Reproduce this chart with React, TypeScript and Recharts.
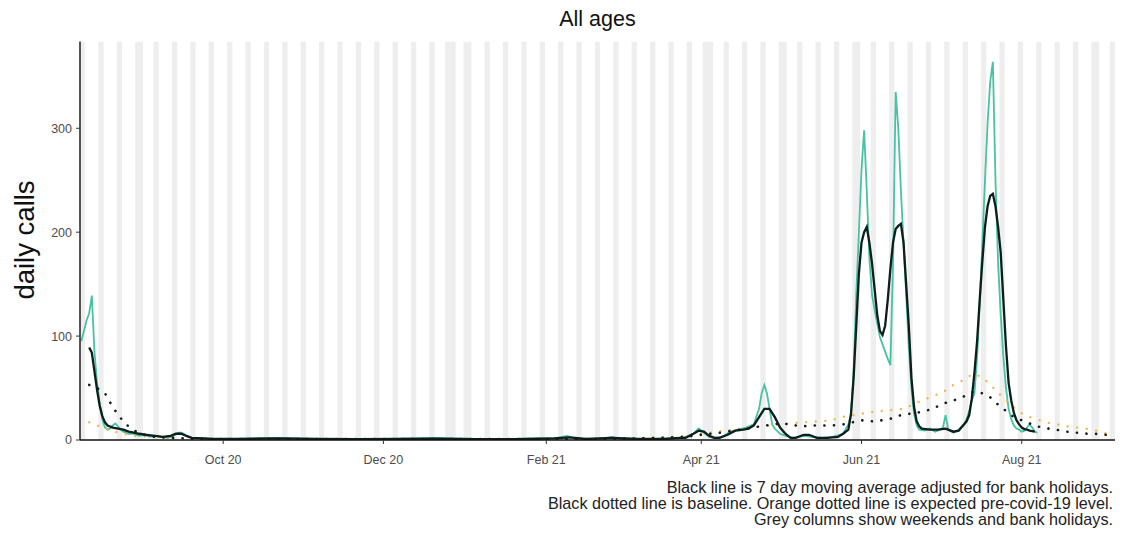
import React from 'react';
import { ComposedChart, Line, XAxis, YAxis, ReferenceArea } from 'recharts';

const START = '2020-08-08';
const END = '2021-09-05';

const tickDates = ['2020-10-01', '2020-12-01', '2021-02-01', '2021-04-01', '2021-06-01', '2021-08-01'];
const tickLabels = ['Oct 20', 'Dec 20', 'Feb 21', 'Apr 21', 'Jun 21', 'Aug 21'];
const yTicks = [0, 100, 200, 300];
const yMax = 383.5;

const bankHolidays = [
  '2020-08-31', '2020-12-25', '2020-12-28', '2021-01-01',
  '2021-04-02', '2021-04-05', '2021-05-03', '2021-05-31', '2021-08-30',
];

// daily calls (teal)
const dailyCalls: [string, number][] = [
  ['2020-08-08', 95], ['2020-08-09', 105], ['2020-08-10', 115], ['2020-08-11', 122], ['2020-08-12', 139],
  ['2020-08-13', 85], ['2020-08-14', 55], ['2020-08-15', 35], ['2020-08-16', 20], ['2020-08-17', 12],
  ['2020-08-18', 10], ['2020-08-19', 11], ['2020-08-20', 14], ['2020-08-21', 16], ['2020-08-22', 13],
  ['2020-08-23', 10], ['2020-08-24', 8], ['2020-08-26', 6], ['2020-08-28', 6], ['2020-08-30', 4],
  ['2020-09-01', 5], ['2020-09-03', 3], ['2020-09-05', 4], ['2020-09-07', 3], ['2020-09-10', 2],
  ['2020-09-12', 4], ['2020-09-14', 7], ['2020-09-15', 7], ['2020-09-16', 6], ['2020-09-17', 4],
  ['2020-09-19', 2], ['2020-09-23', 2], ['2020-09-27', 1], ['2020-10-05', 1], ['2020-10-20', 2],
  ['2020-11-05', 1], ['2020-11-20', 1], ['2020-12-05', 1], ['2020-12-20', 2], ['2021-01-05', 1],
  ['2021-01-20', 1], ['2021-02-05', 2], ['2021-02-09', 4], ['2021-02-12', 1], ['2021-02-22', 1],
  ['2021-02-26', 3], ['2021-03-01', 1], ['2021-03-15', 1], ['2021-03-25', 2], ['2021-03-29', 6],
  ['2021-03-31', 11], ['2021-04-02', 7], ['2021-04-04', 3], ['2021-04-06', 2], ['2021-04-09', 3],
  ['2021-04-12', 8], ['2021-04-15', 10], ['2021-04-18', 12], ['2021-04-21', 15], ['2021-04-23', 30],
  ['2021-04-24', 45], ['2021-04-25', 53], ['2021-04-26', 45], ['2021-04-27', 30], ['2021-04-28', 15],
  ['2021-04-29', 11], ['2021-05-01', 6], ['2021-05-03', 4], ['2021-05-06', 2], ['2021-05-10', 4],
  ['2021-05-13', 3], ['2021-05-17', 2], ['2021-05-21', 3], ['2021-05-25', 6], ['2021-05-27', 15],
  ['2021-05-28', 25], ['2021-05-29', 65], ['2021-05-30', 140], ['2021-05-31', 200], ['2021-06-01', 260],
  ['2021-06-02', 298], ['2021-06-03', 240], ['2021-06-04', 175], ['2021-06-05', 140], ['2021-06-06', 125],
  ['2021-06-07', 112], ['2021-06-08', 99], ['2021-06-09', 92], ['2021-06-10', 85], ['2021-06-11', 78],
  ['2021-06-12', 72], ['2021-06-13', 170], ['2021-06-14', 335], ['2021-06-15', 300], ['2021-06-16', 240],
  ['2021-06-17', 190], ['2021-06-18', 140], ['2021-06-19', 90], ['2021-06-20', 50], ['2021-06-21', 25],
  ['2021-06-22', 14], ['2021-06-23', 10], ['2021-06-25', 9], ['2021-06-27', 11], ['2021-06-29', 8],
  ['2021-07-01', 10], ['2021-07-02', 12], ['2021-07-03', 24], ['2021-07-04', 10], ['2021-07-06', 7],
  ['2021-07-08', 10], ['2021-07-10', 15], ['2021-07-11', 20], ['2021-07-12', 28], ['2021-07-13', 38],
  ['2021-07-14', 45], ['2021-07-15', 80], ['2021-07-16', 130], ['2021-07-17', 190], ['2021-07-18', 250],
  ['2021-07-19', 305], ['2021-07-20', 345], ['2021-07-21', 364], ['2021-07-22', 250], ['2021-07-23', 170],
  ['2021-07-24', 120], ['2021-07-25', 80], ['2021-07-26', 50], ['2021-07-27', 30], ['2021-07-28', 20],
  ['2021-07-29', 14], ['2021-07-30', 11], ['2021-07-31', 10], ['2021-08-01', 8], ['2021-08-02', 9],
  ['2021-08-03', 12], ['2021-08-04', 15], ['2021-08-05', 12], ['2021-08-06', 8], ['2021-08-07', 7],
];

// 7 day moving average (black)
const movingAverage: [string, number][] = [
  ['2020-08-11', 89], ['2020-08-12', 84], ['2020-08-13', 66], ['2020-08-14', 48], ['2020-08-15', 33],
  ['2020-08-16', 23], ['2020-08-17', 17], ['2020-08-18', 14], ['2020-08-20', 12], ['2020-08-22', 11],
  ['2020-08-24', 10], ['2020-08-26', 8], ['2020-08-28', 7], ['2020-08-30', 6], ['2020-09-02', 5],
  ['2020-09-05', 4], ['2020-09-08', 3], ['2020-09-11', 4], ['2020-09-13', 6], ['2020-09-15', 6],
  ['2020-09-17', 4], ['2020-09-19', 2], ['2020-09-23', 1.5], ['2020-09-27', 1], ['2020-10-07', 1],
  ['2020-10-22', 1.5], ['2020-11-06', 1], ['2020-11-21', 0.8], ['2020-12-06', 1], ['2020-12-21', 1.2],
  ['2021-01-05', 0.8], ['2021-01-20', 0.8], ['2021-02-04', 1.5], ['2021-02-10', 2.5], ['2021-02-16', 1],
  ['2021-02-26', 2], ['2021-03-08', 1], ['2021-03-18', 1], ['2021-03-24', 2], ['2021-03-26', 2],
  ['2021-03-29', 6], ['2021-03-31', 9], ['2021-04-02', 8], ['2021-04-04', 4], ['2021-04-06', 2],
  ['2021-04-08', 2], ['2021-04-11', 5], ['2021-04-14', 9], ['2021-04-17', 10], ['2021-04-19', 11],
  ['2021-04-21', 14], ['2021-04-23', 22], ['2021-04-25', 30], ['2021-04-27', 30], ['2021-04-29', 22],
  ['2021-05-01', 12], ['2021-05-03', 6], ['2021-05-05', 2], ['2021-05-07', 2], ['2021-05-10', 5],
  ['2021-05-12', 5], ['2021-05-15', 2], ['2021-05-19', 2], ['2021-05-23', 3], ['2021-05-25', 6],
  ['2021-05-27', 10], ['2021-05-28', 25], ['2021-05-29', 60], ['2021-05-30', 110], ['2021-05-31', 160],
  ['2021-06-01', 190], ['2021-06-02', 200], ['2021-06-03', 205], ['2021-06-04', 190], ['2021-06-05', 170],
  ['2021-06-06', 145], ['2021-06-07', 120], ['2021-06-08', 105], ['2021-06-09', 101], ['2021-06-10', 110],
  ['2021-06-11', 135], ['2021-06-12', 165], ['2021-06-13', 190], ['2021-06-14', 203], ['2021-06-15', 206],
  ['2021-06-16', 208], ['2021-06-17', 190], ['2021-06-18', 150], ['2021-06-19', 110], ['2021-06-20', 60],
  ['2021-06-21', 32], ['2021-06-22', 18], ['2021-06-23', 13], ['2021-06-24', 11], ['2021-06-27', 10],
  ['2021-06-30', 10], ['2021-07-03', 11], ['2021-07-06', 8], ['2021-07-08', 9], ['2021-07-09', 12],
  ['2021-07-10', 15], ['2021-07-11', 18], ['2021-07-12', 24], ['2021-07-13', 40], ['2021-07-14', 65],
  ['2021-07-15', 95], ['2021-07-16', 135], ['2021-07-17', 172], ['2021-07-18', 205], ['2021-07-19', 225],
  ['2021-07-20', 235], ['2021-07-21', 237], ['2021-07-22', 225], ['2021-07-23', 205], ['2021-07-24', 180],
  ['2021-07-25', 135], ['2021-07-26', 90], ['2021-07-27', 55], ['2021-07-28', 38], ['2021-07-29', 26],
  ['2021-07-30', 19], ['2021-07-31', 15], ['2021-08-01', 12], ['2021-08-02', 10.5], ['2021-08-03', 10],
  ['2021-08-04', 9], ['2021-08-05', 8.5], ['2021-08-06', 8],
];

// baseline (black dotted)
const baseline: [string, number][] = [
  ['2020-08-11', 53], ['2020-08-14', 50], ['2020-08-17', 45], ['2020-08-19', 36], ['2020-08-21', 28],
  ['2020-08-23', 21], ['2020-08-26', 13], ['2020-08-29', 8], ['2020-09-01', 5], ['2020-09-05', 3],
  ['2020-09-12', 2], ['2020-09-22', 1], ['2020-10-07', 1], ['2020-11-16', 0.8], ['2021-01-05', 0.8],
  ['2021-02-24', 1], ['2021-03-16', 2], ['2021-03-26', 3], ['2021-04-01', 5], ['2021-04-08', 7],
  ['2021-04-16', 10], ['2021-04-23', 13], ['2021-05-01', 16], ['2021-05-05', 15], ['2021-05-09', 13],
  ['2021-05-13', 14], ['2021-05-21', 14], ['2021-05-25', 15], ['2021-06-01', 19], ['2021-06-05', 18],
  ['2021-06-09', 19], ['2021-06-13', 21], ['2021-06-16', 24], ['2021-06-24', 27], ['2021-06-28', 30],
  ['2021-07-02', 35], ['2021-07-06', 38], ['2021-07-10', 42], ['2021-07-13', 46], ['2021-07-16', 46],
  ['2021-07-20', 41], ['2021-07-23', 34], ['2021-07-29', 22], ['2021-08-02', 18], ['2021-08-07', 13],
  ['2021-08-11', 11], ['2021-08-14', 10], ['2021-08-18', 8], ['2021-08-22', 7], ['2021-08-26', 6],
  ['2021-08-29', 6], ['2021-09-02', 5],
];

// expected pre-covid-19 level (orange dotted)
const expected: [string, number][] = [
  ['2020-08-11', 17], ['2020-08-16', 12], ['2020-08-22', 7], ['2020-08-28', 4], ['2020-09-07', 2],
  ['2020-09-22', 1], ['2020-11-16', 0.5], ['2021-01-05', 0.5], ['2021-02-24', 1], ['2021-03-21', 3],
  ['2021-04-01', 6], ['2021-04-10', 9], ['2021-04-20', 12], ['2021-05-05', 16], ['2021-05-21', 19],
  ['2021-05-24', 22], ['2021-06-05', 27], ['2021-06-13', 29], ['2021-06-17', 30], ['2021-06-24', 38],
  ['2021-07-02', 46], ['2021-07-06', 53], ['2021-07-10', 58], ['2021-07-13', 63], ['2021-07-15', 63],
  ['2021-07-17', 59], ['2021-07-19', 56], ['2021-07-22', 48], ['2021-07-26', 38], ['2021-07-31', 27],
  ['2021-08-05', 21], ['2021-08-12', 16], ['2021-08-19', 13], ['2021-08-28', 10], ['2021-09-01', 7],
  ['2021-09-04', 5],
];

const FONT = '"Liberation Sans", Arial, sans-serif';

const parse = (s: string) => {
  const [y, m, d] = s.split('-').map(Number);
  return Date.UTC(y, m - 1, d);
};
const t0 = parse(START);
const dayOf = (s: string) => Math.round((parse(s) - t0) / 86400000);
const nDays = dayOf(END) + 1;

type Row = { day: number; raw: number | null; avg: number | null; base: number | null; exp: number | null };
const rows: Row[] = Array.from({ length: nDays }, (_, i) => ({ day: i, raw: null, avg: null, base: null, exp: null }));
dailyCalls.forEach(([d, v]) => { rows[dayOf(d)].raw = v; });
movingAverage.forEach(([d, v]) => { rows[dayOf(d)].avg = v; });
baseline.forEach(([d, v]) => { rows[dayOf(d)].base = v; });
expected.forEach(([d, v]) => { rows[dayOf(d)].exp = v; });

const holidaySet = new Set(bankHolidays.map(dayOf));
const greyDay = (i: number) => {
  const wd = new Date(t0 + i * 86400000).getUTCDay();
  return wd === 0 || wd === 6 || holidaySet.has(i);
};
const greyRuns: [number, number][] = [];
for (let i = 0; i < nDays; i++) {
  if (!greyDay(i)) continue;
  const last = greyRuns[greyRuns.length - 1];
  if (last && last[1] === i - 1) last[1] = i;
  else greyRuns.push([i, i]);
}

const tickDays = tickDates.map(dayOf);
const tickLabel = (v: number) => {
  const k = tickDays.indexOf(v);
  return k >= 0 ? tickLabels[k] : '';
};

export default function App() {
  return (
    <div style={{ position: 'relative', width: 1120, height: 525, fontFamily: FONT }}>
      <ComposedChart
        width={1120}
        height={525}
        data={rows}
        margin={{ top: 33.5, right: 13, bottom: 53, left: 0 }}
      >
        {greyRuns.map(([a, b]) => (
          <ReferenceArea
            key={a}
            x1={a - 0.5}
            x2={b + 0.5}
            y1={0}
            y2={yMax}
            fill="#eeeeee"
            fillOpacity={1}
            stroke="none"
            ifOverflow="hidden"
            zIndex={-10}
          />
        ))}
        <XAxis
          type="number"
          dataKey="day"
          domain={[-0.5, nDays - 0.5]}
          allowDataOverflow
          ticks={tickDays}
          interval={0}
          tickFormatter={tickLabel}
          height={40}
          tickSize={4}
          tickMargin={11}
          axisLine={{ stroke: '#111', strokeWidth: 1.4 }}
          tickLine={{ stroke: '#333', strokeWidth: 1 }}
          tick={{ fill: '#4d4d4d', fontSize: 12.5, fontFamily: FONT }}
        />
        <YAxis
          type="number"
          domain={[0, yMax]}
          allowDataOverflow
          ticks={yTicks}
          interval={0}
          width={72}
          tickSize={4}
          tickMargin={4}
          axisLine={{ stroke: '#111', strokeWidth: 1.4 }}
          tickLine={{ stroke: '#333', strokeWidth: 1 }}
          tick={{ fill: '#4d4d4d', fontSize: 12.5, fontFamily: FONT }}
        />
        <Line
          dataKey="raw"
          type="linear"
          stroke="#48c2a3"
          strokeWidth={1.8}
          dot={false}
          activeDot={false}
          connectNulls
          isAnimationActive={false}
        />
        <Line
          dataKey="exp"
          type="linear"
          stroke="#f3b548"
          strokeWidth={2.3}
          strokeDasharray="0.1 9.5"
          strokeLinecap="round"
          dot={false}
          activeDot={false}
          connectNulls
          isAnimationActive={false}
        />
        <Line
          dataKey="base"
          type="linear"
          stroke="#1a1a1a"
          strokeWidth={2.6}
          strokeDasharray="0.1 9.5"
          strokeLinecap="round"
          dot={false}
          activeDot={false}
          connectNulls
          isAnimationActive={false}
        />
        <Line
          dataKey="avg"
          type="linear"
          stroke="#0c1f1c"
          strokeWidth={2.3}
          dot={false}
          activeDot={false}
          connectNulls
          isAnimationActive={false}
        />
      </ComposedChart>
      <svg
        width={1120}
        height={525}
        style={{ position: 'absolute', left: 0, top: 0, pointerEvents: 'none' }}
      >
        <text x={589.5} y={18} textAnchor="middle" fontSize={21.5} fontFamily={FONT} fill="#111">
          All ages
        </text>
        <text
          x={26}
          y={232}
          textAnchor="middle"
          fontSize={27.5}
          fontFamily={FONT}
          fill="#111"
          transform="rotate(-90, 26, 232)"
        >
          daily calls
        </text>
        <text textAnchor="end" fontSize={16.2} fontFamily={FONT} fill="#222">
          <tspan x={1105} y={485}>Black line is 7 day moving average adjusted for bank holidays.</tspan>
          <tspan x={1105} y={501}>Black dotted line is baseline. Orange dotted line is expected pre-covid-19 level.</tspan>
          <tspan x={1105} y={517}>Grey columns show weekends and bank holidays.</tspan>
        </text>
      </svg>
    </div>
  );
}
